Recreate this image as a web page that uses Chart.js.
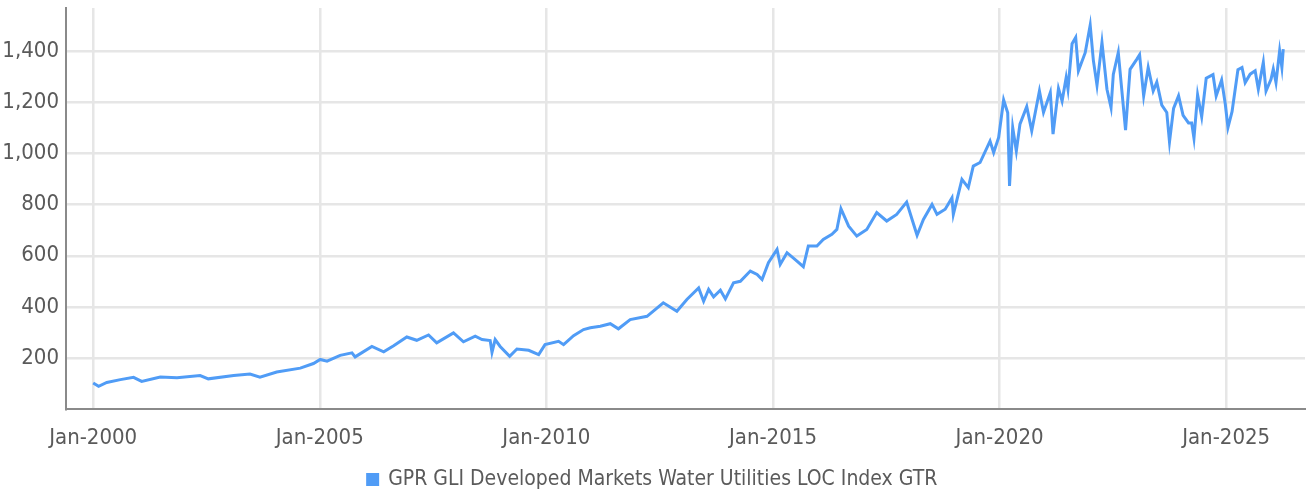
<!DOCTYPE html>
<html lang="en">
<head>
    <meta charset="UTF-8">
    <title>GPR GLI Developed Markets Water Utilities LOC Index GTR</title>
    <script src="https://cdn.jsdelivr.net/npm/chart.js"></script>
    <style>
        html, body {
            margin: 0;
            padding: 0;
            background: #fff;
        }
        .wrapper {
            width: 1306px;
            height: 493px;
        }
    </style>
</head>
<body>
    <div class="wrapper">
        <canvas id="indexChart"></canvas>
    </div>

    <script>
        const obsYears = [
            2000.00, 2000.12, 2000.30, 2000.60, 2000.89, 2001.07, 2001.48, 2001.85, 2002.36, 2002.54,
            2003.10, 2003.46, 2003.68, 2004.05, 2004.57, 2004.86, 2005.01, 2005.16, 2005.45, 2005.71,
            2005.78, 2006.15, 2006.41, 2006.63, 2006.92, 2007.14, 2007.40, 2007.58, 2007.95, 2008.17,
            2008.43, 2008.58, 2008.76, 2008.80, 2008.87, 2008.98, 2009.19, 2009.35, 2009.61, 2009.83,
            2009.97, 2010.27, 2010.38, 2010.60, 2010.82, 2010.97, 2011.19, 2011.41, 2011.59, 2011.85,
            2012.22, 2012.58, 2012.88, 2013.10, 2013.36, 2013.47, 2013.58, 2013.69, 2013.84, 2013.95,
            2014.13, 2014.28, 2014.50, 2014.65, 2014.76, 2014.90, 2015.09, 2015.16, 2015.31, 2015.53,
            2015.67, 2015.78, 2015.97, 2016.11, 2016.30, 2016.41, 2016.50, 2016.67, 2016.85, 2017.07,
            2017.29, 2017.51, 2017.73, 2017.95, 2018.07, 2018.18, 2018.32, 2018.51, 2018.62, 2018.80,
            2018.95, 2018.98, 2019.17, 2019.31, 2019.42, 2019.57, 2019.79, 2019.87, 2019.98, 2020.09,
            2020.18, 2020.22, 2020.29, 2020.37, 2020.45, 2020.60, 2020.71, 2020.88, 2020.97, 2021.12,
            2021.18, 2021.30, 2021.38, 2021.47, 2021.51, 2021.60, 2021.68, 2021.74, 2021.89, 2022.00,
            2022.07, 2022.15, 2022.26, 2022.37, 2022.46, 2022.51, 2022.62, 2022.78, 2022.88, 2023.03,
            2023.09, 2023.18, 2023.28, 2023.39, 2023.47, 2023.58, 2023.69, 2023.75, 2023.84, 2023.95,
            2024.05, 2024.17, 2024.24, 2024.29, 2024.37, 2024.46, 2024.56, 2024.71, 2024.78, 2024.90,
            2024.98, 2025.04, 2025.13, 2025.26, 2025.35, 2025.42, 2025.53, 2025.64, 2025.71, 2025.82,
            2025.88, 2025.99, 2026.04, 2026.10, 2026.18, 2026.23, 2026.26
        ];

        const indexValues = [
            102, 89, 104, 115, 124, 108, 125, 122, 131, 118,
            131, 137, 125, 145, 160, 178, 194, 187, 210, 220,
            204, 245, 224, 248, 282, 269, 290, 259, 298, 263,
            285, 272, 268, 222, 272, 245, 206, 235, 230, 213,
            252, 265, 252, 287, 311, 318, 324, 334, 314, 350,
            363, 416, 383, 429, 474, 422, 468, 439, 465, 431,
            494, 500, 540, 527, 507, 573, 625, 566, 612, 579,
            557, 638, 638, 664, 684, 703, 784, 716, 677, 703,
            769, 736, 762, 810, 742, 680, 742, 801, 762, 782,
            827, 762, 899, 867, 951, 965, 1049, 1004, 1063, 1210,
            1160, 873, 1102, 1010, 1115, 1184, 1089, 1245, 1161, 1239,
            1076, 1255, 1206, 1298, 1252, 1430, 1455, 1324, 1395, 1503,
            1365, 1268, 1435, 1252, 1180, 1310, 1396, 1092, 1330, 1370,
            1387, 1226, 1337, 1245, 1280, 1190, 1161, 1046, 1177, 1226,
            1150, 1120, 1120, 1060, 1230, 1144, 1295, 1309, 1226, 1288,
            1195, 1102, 1164, 1328, 1337, 1278, 1311, 1324, 1252, 1357,
            1245, 1291, 1331, 1278, 1402, 1337, 1409
        ];

        const xTickYears = [2000, 2005, 2010, 2015, 2020, 2025];
        const xTickLabels = ['Jan-2000', 'Jan-2005', 'Jan-2010', 'Jan-2015', 'Jan-2020', 'Jan-2025'];
        const yTickValues = [200, 400, 600, 800, 1000, 1200, 1400];
        const seriesName = 'GPR GLI Developed Markets Water Utilities LOC Index GTR';

        const fontFamily = "'DejaVu Sans Condensed', 'Liberation Sans', sans-serif";
        const lineColor = '#509cf6';
        const gridColor = '#e6e6e6';
        const axisColor = '#8a8a8a';
        const textColor = '#5a5a5a';

        const points = obsYears.map((yr, i) => ({ x: yr, y: indexValues[i] }));

        const ctx = document.getElementById('indexChart').getContext('2d');
        const indexChart = new Chart(ctx, {
            type: 'line',
            data: {
                datasets: [{
                    label: seriesName,
                    data: points,
                    borderColor: lineColor,
                    backgroundColor: lineColor,
                    borderWidth: 3,
                    pointRadius: 0,
                    tension: 0
                }]
            },
            options: {
                responsive: true,
                maintainAspectRatio: false,
                animation: false,
                layout: {
                    // negative bottom pads the legend lower, toward the canvas edge
                    padding: { top: 8, right: 1, left: 0, bottom: -7 }
                },
                scales: {
                    x: {
                        type: 'linear',
                        min: 1999.40,
                        max: 2026.74,
                        afterBuildTicks: axis => {
                            axis.ticks = xTickYears.map(v => ({ value: v }));
                        },
                        afterFit: axis => {
                            axis.height = 60;
                        },
                        grid: {
                            color: gridColor,
                            lineWidth: 2.5,
                            drawTicks: false
                        },
                        border: {
                            color: axisColor,
                            width: 2
                        },
                        ticks: {
                            padding: 16,
                            color: textColor,
                            maxRotation: 0,
                            autoSkip: false,
                            font: { family: fontFamily, size: 22 },
                            callback: value => {
                                const idx = xTickYears.indexOf(value);
                                return idx >= 0 ? xTickLabels[idx] : '';
                            }
                        }
                    },
                    y: {
                        min: 0,
                        max: 1570,
                        afterBuildTicks: axis => {
                            axis.ticks = yTickValues.map(v => ({ value: v }));
                        },
                        afterFit: axis => {
                            axis.width = 66;
                            // no label overhang above the plot, the top tick sits well inside
                            axis.paddingTop = 0;
                            axis.paddingBottom = 0;
                        },
                        grid: {
                            color: gridColor,
                            lineWidth: 2.5,
                            drawTicks: false
                        },
                        border: {
                            color: axisColor,
                            width: 2
                        },
                        ticks: {
                            padding: 7,
                            color: textColor,
                            font: { family: fontFamily, size: 22 },
                            callback: value => value.toLocaleString('en-US')
                        }
                    }
                },
                plugins: {
                    legend: {
                        position: 'bottom',
                        labels: {
                            boxWidth: 10,
                            boxHeight: 10,
                            padding: 0,
                            color: textColor,
                            font: { family: fontFamily, size: 21 }
                        }
                    },
                    tooltip: { enabled: false }
                }
            }
        });
    </script>
</body>
</html>
